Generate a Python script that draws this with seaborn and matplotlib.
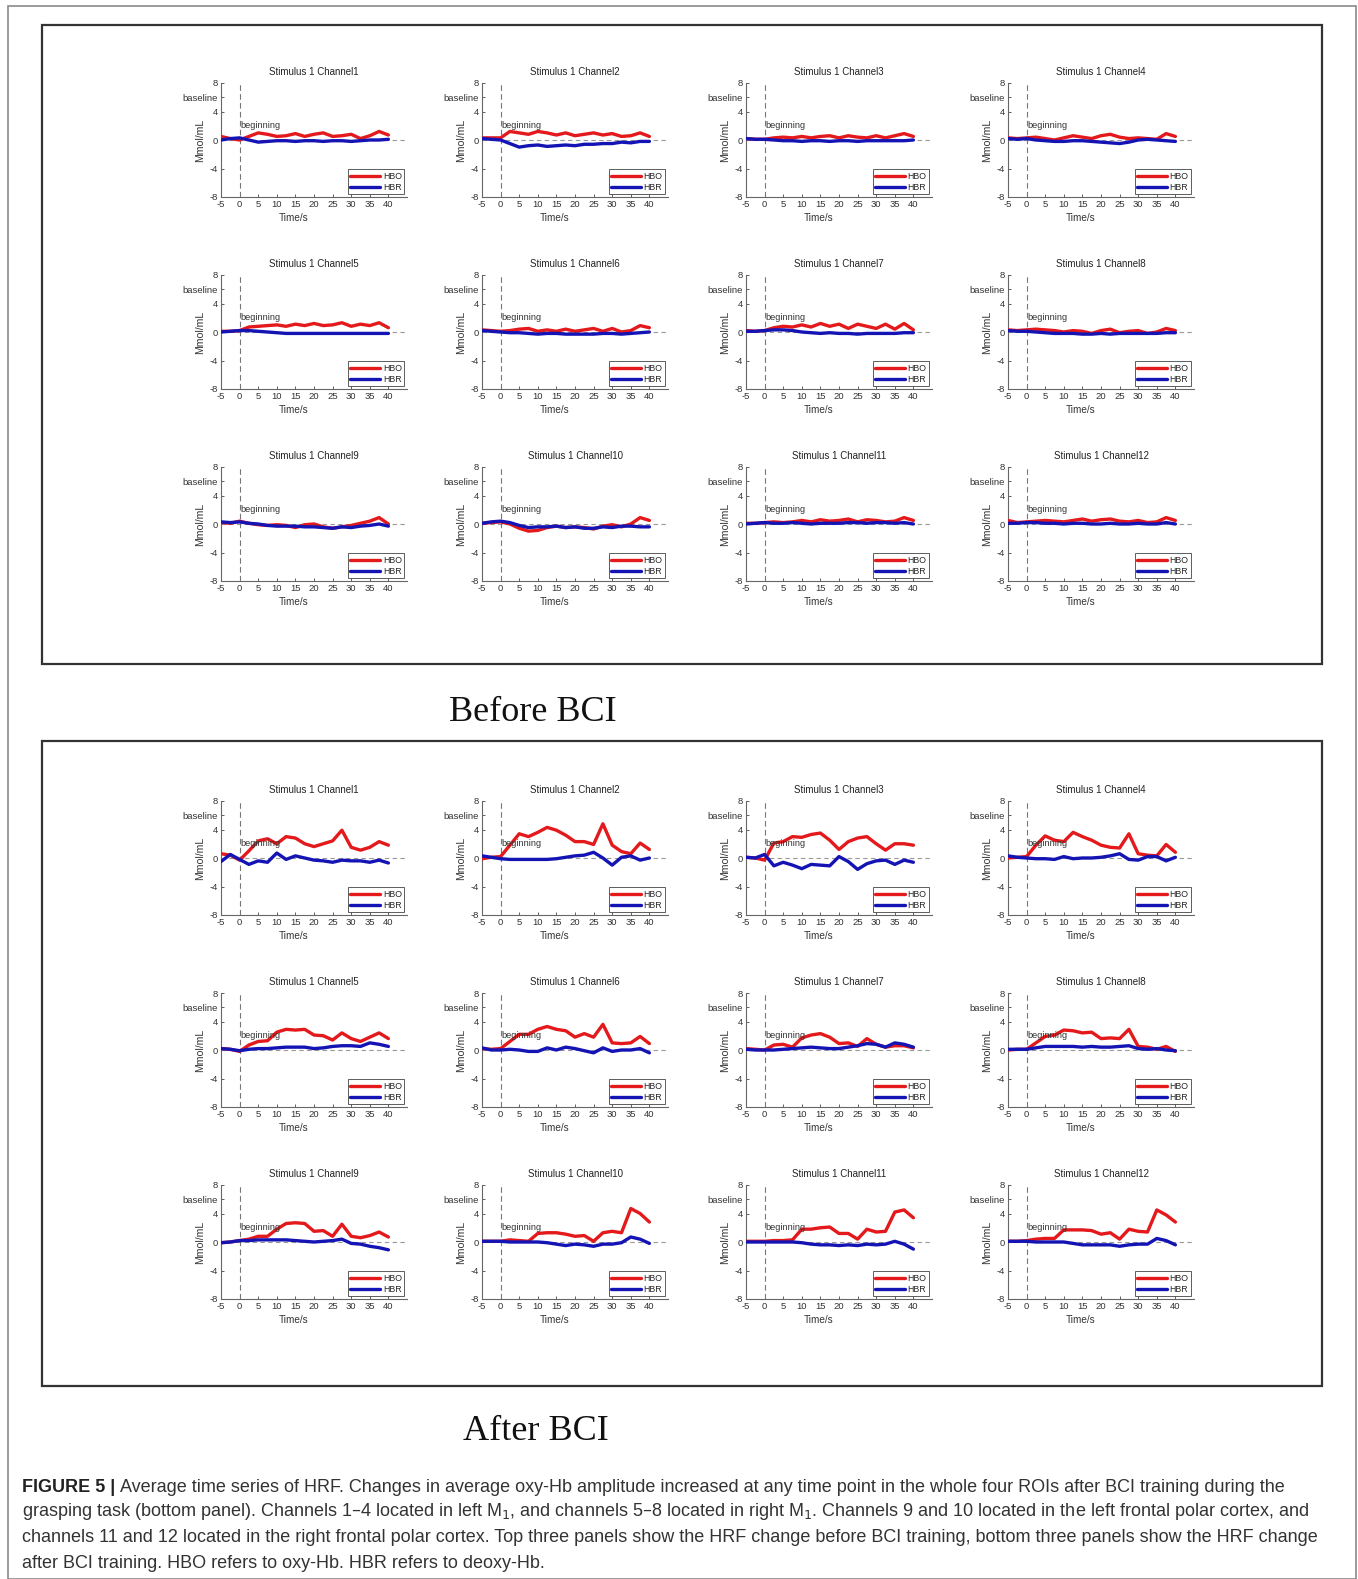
import numpy as np
import pandas as pd
import matplotlib
matplotlib.use("Agg")
import matplotlib.pyplot as plt
from matplotlib.patches import Rectangle
import seaborn as sns

# -----------------------------------------------------------------------------
# Data (2.5 s steps)
# -----------------------------------------------------------------------------
time_s = [-5, -2.5, 0, 2.5, 5, 7.5, 10, 12.5, 15, 17.5, 20, 22.5, 25, 27.5, 30, 32.5, 35, 37.5, 40]

channels = [f"Channel{i}" for i in range(1, 13)]

# Before BCI
before_hbo = [
    [0.5, 0.2, 0.0, 0.5, 1.0, 0.8, 0.5, 0.6, 0.9, 0.5, 0.8, 1.0, 0.5, 0.6, 0.8, 0.2, 0.6, 1.2, 0.7],
    [0.3, 0.3, 0.3, 1.2, 1.0, 0.8, 1.2, 1.0, 0.7, 1.0, 0.6, 0.8, 1.0, 0.7, 0.9, 0.5, 0.6, 1.0, 0.5],
    [0.2, 0.1, 0.1, 0.3, 0.4, 0.3, 0.5, 0.3, 0.5, 0.6, 0.3, 0.6, 0.4, 0.3, 0.6, 0.3, 0.6, 0.9, 0.5],
    [0.3, 0.2, 0.3, 0.4, 0.2, 0.0, 0.3, 0.6, 0.4, 0.2, 0.6, 0.8, 0.4, 0.2, 0.3, 0.2, 0.1, 0.9, 0.5],
    [0.1, 0.1, 0.2, 0.7, 0.8, 0.9, 1.0, 0.8, 1.1, 0.9, 1.2, 0.9, 1.0, 1.3, 0.8, 1.1, 0.9, 1.3, 0.6],
    [0.3, 0.2, 0.1, 0.2, 0.4, 0.5, 0.1, 0.3, 0.1, 0.4, 0.1, 0.3, 0.5, 0.1, 0.5, 0.0, 0.2, 0.9, 0.6],
    [0.2, 0.1, 0.2, 0.6, 0.8, 0.7, 1.0, 0.7, 1.2, 0.8, 1.1, 0.5, 1.1, 0.8, 0.5, 1.1, 0.4, 1.2, 0.3],
    [0.3, 0.2, 0.3, 0.4, 0.3, 0.2, 0.0, 0.2, 0.1, -0.2, 0.2, 0.4, -0.1, 0.1, 0.2, -0.2, 0.0, 0.5, 0.2],
    [0.2, 0.1, 0.4, 0.1, -0.1, -0.2, -0.1, -0.2, -0.5, -0.1, 0.0, -0.4, -0.6, -0.4, -0.2, 0.1, 0.4, 0.9, 0.0],
    [0.1, 0.2, 0.3, 0.0, -0.6, -1.0, -0.9, -0.5, -0.3, -0.5, -0.4, -0.5, -0.7, -0.3, -0.1, -0.4, 0.0, 0.9, 0.5],
    [0.1, 0.1, 0.2, 0.3, 0.2, 0.3, 0.5, 0.3, 0.6, 0.4, 0.5, 0.7, 0.3, 0.6, 0.5, 0.3, 0.4, 0.9, 0.5],
    [0.5, 0.2, 0.3, 0.4, 0.5, 0.4, 0.3, 0.5, 0.7, 0.4, 0.6, 0.7, 0.4, 0.3, 0.5, 0.2, 0.3, 0.9, 0.5],
]
before_hbr = [
    [0.0, 0.2, 0.3, 0.0, -0.3, -0.2, -0.1, -0.1, -0.2, -0.1, -0.1, -0.2, -0.1, -0.1, -0.2, -0.1, 0.0, 0.0, 0.1],
    [0.2, 0.1, 0.0, -0.5, -1.0, -0.8, -0.7, -0.9, -0.8, -0.7, -0.8, -0.6, -0.6, -0.5, -0.5, -0.3, -0.4, -0.2, -0.2],
    [0.2, 0.1, 0.1, 0.0, -0.1, -0.1, -0.2, -0.1, -0.1, -0.2, -0.1, -0.1, -0.2, -0.1, -0.1, -0.1, -0.1, -0.1, 0.0],
    [0.2, 0.1, 0.2, 0.0, -0.1, -0.2, -0.2, -0.1, -0.1, -0.2, -0.3, -0.4, -0.5, -0.3, 0.0, 0.1, 0.0, -0.1, -0.2],
    [0.0, 0.1, 0.2, 0.2, 0.1, 0.0, -0.1, -0.2, -0.2, -0.2, -0.2, -0.2, -0.2, -0.2, -0.2, -0.2, -0.2, -0.2, -0.2],
    [0.2, 0.1, 0.0, -0.1, -0.1, -0.2, -0.3, -0.2, -0.2, -0.3, -0.3, -0.3, -0.3, -0.2, -0.2, -0.3, -0.2, -0.1, 0.0],
    [0.1, 0.1, 0.2, 0.3, 0.3, 0.2, 0.0, -0.1, -0.2, -0.1, -0.2, -0.2, -0.3, -0.2, -0.2, -0.2, -0.2, -0.1, -0.1],
    [0.2, 0.1, 0.1, 0.0, -0.1, -0.2, -0.2, -0.2, -0.3, -0.3, -0.2, -0.3, -0.2, -0.2, -0.2, -0.2, -0.2, -0.1, -0.1],
    [0.3, 0.2, 0.3, 0.1, 0.0, -0.2, -0.3, -0.3, -0.3, -0.4, -0.4, -0.5, -0.6, -0.4, -0.5, -0.3, -0.2, 0.0, -0.3],
    [0.1, 0.3, 0.4, 0.2, -0.2, -0.5, -0.4, -0.4, -0.3, -0.5, -0.4, -0.6, -0.6, -0.4, -0.5, -0.3, -0.3, -0.4, -0.4],
    [0.0, 0.1, 0.2, 0.1, 0.1, 0.2, 0.1, 0.0, 0.1, 0.1, 0.1, 0.2, 0.2, 0.1, 0.2, 0.2, 0.1, 0.2, 0.0],
    [0.1, 0.1, 0.2, 0.2, 0.1, 0.1, 0.0, 0.1, 0.1, 0.0, 0.0, 0.1, 0.0, 0.0, 0.1, 0.0, 0.0, 0.2, 0.0],
]

# After BCI
after_hbo = [
    [0.6, 0.4, -0.3, 1.0, 2.4, 2.7, 2.0, 3.0, 2.8, 2.0, 1.6, 2.0, 2.4, 3.9, 1.5, 1.1, 1.5, 2.3, 1.8],
    [-0.1, 0.1, 0.2, 1.8, 3.4, 3.0, 3.6, 4.3, 3.9, 3.2, 2.3, 2.3, 1.9, 4.8, 1.8, 0.9, 0.6, 2.1, 1.2],
    [0.1, 0.0, -0.3, 2.1, 2.3, 3.0, 2.9, 3.3, 3.5, 2.5, 1.2, 2.3, 2.8, 3.0, 2.0, 1.1, 2.0, 2.0, 1.8],
    [0.0, 0.1, 0.2, 1.8, 3.1, 2.5, 2.3, 3.6, 3.0, 2.5, 1.8, 1.5, 1.4, 3.4, 0.6, 0.4, 0.3, 1.9, 0.8],
    [0.2, 0.1, -0.2, 0.7, 1.2, 1.3, 2.5, 2.9, 2.8, 2.9, 2.1, 2.0, 1.4, 2.4, 1.6, 1.2, 1.8, 2.4, 1.6],
    [0.2, 0.1, 0.2, 1.2, 2.2, 2.2, 2.9, 3.3, 2.9, 2.7, 1.8, 2.3, 1.8, 3.6, 1.0, 0.9, 1.0, 1.9, 0.9],
    [0.2, 0.1, 0.0, 0.7, 0.8, 0.4, 1.7, 2.1, 2.3, 1.8, 0.9, 1.0, 0.5, 1.6, 0.8, 0.4, 0.6, 0.6, 0.3],
    [0.0, 0.1, 0.1, 1.0, 1.9, 2.1, 2.8, 2.7, 2.4, 2.5, 1.6, 1.7, 1.6, 2.9, 0.5, 0.4, 0.1, 0.5, -0.2],
    [-0.1, 0.0, 0.2, 0.4, 0.8, 0.8, 1.8, 2.6, 2.7, 2.6, 1.5, 1.6, 0.8, 2.5, 0.8, 0.6, 0.9, 1.4, 0.7],
    [0.1, 0.1, 0.1, 0.3, 0.2, 0.1, 1.2, 1.3, 1.3, 1.1, 0.8, 0.9, 0.1, 1.3, 1.5, 1.3, 4.7, 4.0, 2.8],
    [0.1, 0.1, 0.1, 0.2, 0.2, 0.3, 1.8, 1.8, 2.0, 2.1, 1.2, 1.2, 0.4, 1.8, 1.4, 1.5, 4.2, 4.5, 3.4],
    [0.1, 0.1, 0.2, 0.4, 0.5, 0.5, 1.7, 1.7, 1.7, 1.6, 1.1, 1.3, 0.4, 1.8, 1.5, 1.4, 4.5, 3.8, 2.8],
]
after_hbr = [
    [-0.5, 0.5, -0.2, -0.9, -0.4, -0.6, 0.7, -0.2, 0.3, 0.0, -0.3, -0.4, -0.6, -0.3, -0.4, -0.4, -0.6, -0.3, -0.7],
    [0.3, 0.1, -0.1, -0.2, -0.2, -0.2, -0.2, -0.2, -0.1, 0.1, 0.3, 0.4, 0.8, 0.0, -1.0, 0.1, 0.3, -0.3, 0.0],
    [0.1, 0.0, 0.5, -1.1, -0.6, -1.0, -1.5, -0.9, -1.0, -1.1, 0.2, -0.5, -1.6, -0.8, -0.4, -0.3, -0.9, -0.3, -0.6],
    [0.3, 0.1, 0.0, -0.1, -0.1, -0.2, 0.2, -0.1, 0.0, 0.0, 0.1, 0.3, 0.6, -0.2, -0.3, 0.2, 0.2, -0.4, 0.1],
    [0.2, 0.1, -0.1, 0.1, 0.2, 0.2, 0.3, 0.4, 0.4, 0.4, 0.2, 0.3, 0.5, 0.6, 0.6, 0.5, 1.0, 0.8, 0.5],
    [0.3, 0.0, 0.0, 0.1, 0.0, -0.2, -0.2, 0.3, 0.0, 0.4, 0.2, -0.1, -0.4, 0.3, -0.2, 0.0, 0.0, 0.2, -0.4],
    [0.1, 0.0, 0.0, 0.0, 0.1, 0.2, 0.3, 0.4, 0.3, 0.2, 0.2, 0.4, 0.6, 0.9, 0.8, 0.4, 1.0, 0.8, 0.4],
    [0.1, 0.1, 0.1, 0.3, 0.5, 0.5, 0.5, 0.5, 0.4, 0.5, 0.4, 0.4, 0.5, 0.6, 0.2, 0.1, 0.2, 0.0, -0.1],
    [-0.1, 0.0, 0.2, 0.2, 0.3, 0.3, 0.3, 0.3, 0.2, 0.1, 0.0, 0.1, 0.2, 0.4, -0.2, -0.3, -0.6, -0.8, -1.1],
    [0.1, 0.1, 0.1, 0.0, 0.0, 0.0, 0.0, -0.1, -0.3, -0.5, -0.3, -0.4, -0.6, -0.3, -0.3, -0.1, 0.7, 0.4, -0.2],
    [0.0, 0.0, 0.0, 0.0, 0.0, 0.0, -0.1, -0.3, -0.4, -0.4, -0.5, -0.4, -0.5, -0.3, -0.4, -0.3, 0.1, -0.3, -1.0],
    [0.1, 0.1, 0.1, 0.0, 0.0, 0.0, 0.0, -0.2, -0.4, -0.4, -0.4, -0.4, -0.6, -0.4, -0.3, -0.3, 0.5, 0.2, -0.4],
]

y_ticks = [-8, -4, 0, 4, 6, 8]
y_tick_labels = ["-8", "-4", "0", "4", "baseline", "8"]
x_ticks = [-5, 0, 5, 10, 15, 20, 25, 30, 35, 40]

# -----------------------------------------------------------------------------
# Plotting attributes
# -----------------------------------------------------------------------------
sns.set_theme(style="ticks")
plt.rcParams["font.family"] = ["Liberation Sans", "DejaVu Sans"]
plt.rcParams["axes.unicode_minus"] = False

palette = {"HBO": "#e3191c", "HBR": "#1414b4"}
lw = 2.4
W, H = 1358, 1579
ax_w, ax_h = 186, 114
col_left = [221, 482, 746, 1008]
row_top_before = [83, 275, 467]
row_top_after = [801, 993, 1185]

fig = plt.figure(figsize=(W / 100, H / 100), dpi=100)


def draw_panel(left, top, name, hbo, hbr):
    ax = fig.add_axes([left / W, 1 - (top + ax_h) / H, ax_w / W, ax_h / H])
    df = pd.DataFrame({
        "time": time_s * 2,
        "value": hbo + hbr,
        "signal": ["HBO"] * len(time_s) + ["HBR"] * len(time_s),
    })
    ax.axhline(0, color="#999999", lw=0.8, ls=(0, (4, 3)), zorder=1)
    ax.axvline(0, color="#777777", lw=0.8, ls=(0, (5, 3)), zorder=1)
    sns.lineplot(data=df, x="time", y="value", hue="signal", hue_order=["HBO", "HBR"],
                 palette=palette, lw=lw, errorbar=None, ax=ax, zorder=3)
    ax.set_xlim(-5, 45)
    ax.set_ylim(-8, 8)
    ax.set_xticks(x_ticks)
    ax.set_yticks(y_ticks)
    ax.set_yticklabels(y_tick_labels)
    ax.tick_params(direction="in", length=2, width=0.6, labelsize=6.8, pad=2,
                   colors="#444444", labelcolor="#333333")
    ax.set_title("Stimulus 1 " + name, fontsize=7, color="#222222", pad=6)
    ax.set_xlabel("Time/s", fontsize=7.2, color="#333333")
    ax.xaxis.set_label_coords(0.39, -0.14)
    ax.set_ylabel("Mmol/mL", fontsize=7.6, color="#333333")
    ax.yaxis.set_label_coords(-0.085, 0.5)
    ax.text(0.1, 2.1, "beginning", fontsize=6.6, color="#333333", ha="left", va="center")
    for s in ["left", "bottom"]:
        ax.spines[s].set_color("#666666")
        ax.spines[s].set_linewidth(0.8)
    sns.despine(ax=ax)
    ax.legend(loc="lower right", fontsize=6.3, frameon=True, fancybox=False,
              edgecolor="#333333", handlelength=3.4, handletextpad=0.3,
              borderpad=0.3, labelspacing=0.2, borderaxespad=0.3)
    ax.get_legend().get_frame().set_linewidth(0.7)
    ax.patch.set_alpha(0)


for i, name in enumerate(channels):
    r, c = divmod(i, 4)
    draw_panel(col_left[c], row_top_before[r], name, before_hbo[i], before_hbr[i])
    draw_panel(col_left[c], row_top_after[r], name, after_hbo[i], after_hbr[i])

# Frames
fig.add_artist(Rectangle((8 / W, 0), (1356 - 8) / W, 1 - 6 / H, transform=fig.transFigure,
                         fill=False, ec="#8a8a8a", lw=1.2))
for y0, y1 in [(25, 664), (741, 1386)]:
    fig.add_artist(Rectangle((42 / W, 1 - y1 / H), (1322 - 42) / W, (y1 - y0) / H,
                             transform=fig.transFigure, fill=False, ec="#333333", lw=1.6))

fig.text(533 / W, 1 - 712 / H, "Before BCI", family="Liberation Serif", fontsize=26,
         ha="center", va="center", color="#111111")
fig.text(536 / W, 1 - 1431 / H, "After BCI", family="Liberation Serif", fontsize=26,
         ha="center", va="center", color="#111111")

# Caption
caption_lines = [
    "Average time series of HRF. Changes in average oxy-Hb amplitude increased at any time point in the whole four ROIs after BCI training during the",
    "grasping task (bottom panel). Channels 1\u20134 located in left M$_1$, and channels 5\u20138 located in right M$_1$. Channels 9 and 10 located in the left frontal polar cortex, and",
    "channels 11 and 12 located in the right frontal polar cortex. Top three panels show the HRF change before BCI training, bottom three panels show the HRF change",
    "after BCI training. HBO refers to oxy-Hb. HBR refers to deoxy-Hb.",
]
cap_y = [1487, 1512, 1538, 1563]
cap_size = 13.0
renderer = fig.canvas.get_renderer()
bold = fig.text(22 / W, 1 - cap_y[0] / H, "FIGURE 5 |", fontsize=cap_size, weight="bold",
                color="#222222", va="center", ha="left")
bw = bold.get_window_extent(renderer).width
fig.text((22 + bw + 5) / W, 1 - cap_y[0] / H, caption_lines[0], fontsize=cap_size,
         color="#333333", va="center", ha="left")
for line, y in zip(caption_lines[1:], cap_y[1:]):
    fig.text(22 / W, 1 - y / H, line, fontsize=cap_size, color="#333333", va="center", ha="left")

plt.savefig("out.png", dpi=100)
